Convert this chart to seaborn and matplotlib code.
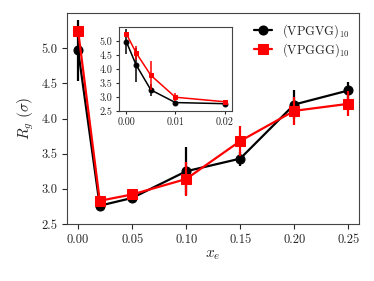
import numpy as np
import pandas as pd
import matplotlib
matplotlib.use("Agg")
import matplotlib.pyplot as plt
import seaborn as sns

# main panel
xe = [0.00, 0.02, 0.05, 0.10, 0.15, 0.20, 0.25]
rg_vpgvg = [4.97, 2.76, 2.87, 3.25, 3.43, 4.20, 4.40]
err_vpgvg = [0.44, 0.03, 0.05, 0.34, 0.10, 0.21, 0.12]
rg_vpggg = [5.25, 2.83, 2.92, 3.14, 3.68, 4.11, 4.21]
err_vpggg = [0.05, 0.03, 0.03, 0.24, 0.21, 0.20, 0.18]

# inset (small x_e)
xe_in = [0.000, 0.002, 0.005, 0.010, 0.020]
rg_in_vpgvg = [4.97, 4.14, 3.25, 2.80, 2.76]
err_in_vpgvg = [0.44, 0.60, 0.22, 0.05, 0.03]
rg_in_vpggg = [5.25, 4.57, 3.77, 2.99, 2.83]
err_in_vpggg = [0.05, 0.25, 0.52, 0.15, 0.03]

labels = [r"$\mathrm{(VPGVG)}_{10}$", r"$\mathrm{(VPGGG)}_{10}$"]
colors = ["black", "red"]
markers = ["o", "s"]

sns.set_style("ticks")
plt.rcParams["font.family"] = "serif"
plt.rcParams["font.serif"] = ["cmr10", "DejaVu Serif"]
plt.rcParams["mathtext.fontset"] = "cm"
plt.rcParams["axes.formatter.use_mathtext"] = True
plt.rcParams["axes.unicode_minus"] = False

fig = plt.figure(figsize=(3.74, 2.81), dpi=100)
ax = fig.add_axes([0.18, 0.203, 0.78, 0.75])

main = [(rg_vpgvg, err_vpgvg), (rg_vpggg, err_vpggg)]
for (y, e), lab, c, m in zip(main, labels, colors, markers):
    df = pd.DataFrame({"x": xe, "y": y})
    sns.lineplot(data=df, x="x", y="y", ax=ax, color=c, marker=m, markersize=6.5,
                 markeredgecolor=c, linewidth=1.6, label=lab)
    ax.errorbar(xe, y, yerr=e, fmt="none", ecolor=c, elinewidth=1.6, capsize=0)

ax.set_xlim(-0.01, 0.26)
ax.set_ylim(2.5, 5.5)
ax.set_xticks([0.0, 0.05, 0.10, 0.15, 0.20, 0.25])
ax.set_xticklabels(["0.00", "0.05", "0.10", "0.15", "0.20", "0.25"])
ax.set_yticks([2.5, 3.0, 3.5, 4.0, 4.5, 5.0])
ax.set_yticklabels(["2.5", "3.0", "3.5", "4.0", "4.5", "5.0"])
ax.tick_params(labelsize=9, length=3.5)
ax.set_xlabel(r"$x_e$", fontsize=11, labelpad=2)
ax.set_ylabel(r"$R_g\ (\sigma)$", fontsize=11, labelpad=4)
for s in ax.spines.values():
    s.set_color("#444444")
ax.legend(loc="upper right", frameon=False, fontsize=9, handlelength=1.5,
          borderaxespad=0.3, labelspacing=0.1, handletextpad=0.8)

# inset
axi = fig.add_axes([0.318, 0.605, 0.302, 0.30])
inset = [(rg_in_vpgvg, err_in_vpgvg), (rg_in_vpggg, err_in_vpggg)]
for (y, e), c, m in zip(inset, colors, markers):
    df = pd.DataFrame({"x": xe_in, "y": y})
    sns.lineplot(data=df, x="x", y="y", ax=axi, color=c, marker=m, markersize=3.5,
                 markeredgecolor=c, linewidth=1.1)
    axi.errorbar(xe_in, y, yerr=e, fmt="none", ecolor=c, elinewidth=1.1, capsize=0)
axi.set_xlim(-0.0015, 0.0215)
axi.set_ylim(2.5, 5.5)
axi.set_xticks([0.0, 0.01, 0.02])
axi.set_xticklabels(["0.00", "0.01", "0.02"])
axi.set_yticks([2.5, 3.0, 3.5, 4.0, 4.5, 5.0])
axi.set_yticklabels(["2.5", "3.0", "3.5", "4.0", "4.5", "5.0"])
axi.tick_params(labelsize=7.3, length=2.5, pad=2)
axi.set_xlabel("")
axi.set_ylabel("")
for s in axi.spines.values():
    s.set_color("#444444")

fig.savefig("out.png", dpi=100)
